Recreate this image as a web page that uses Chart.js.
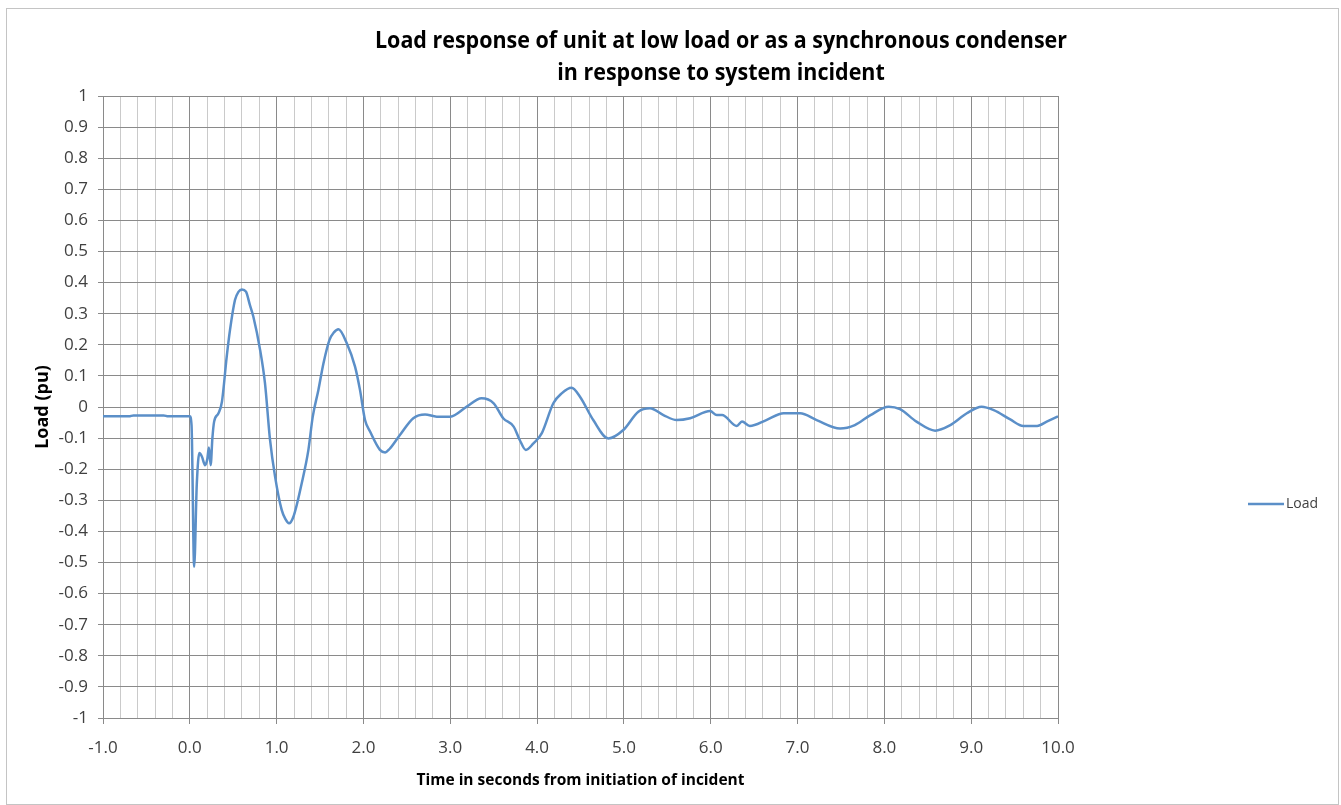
<!DOCTYPE html>
<html>
<head>
<meta charset="utf-8">
<script src="https://cdn.jsdelivr.net/npm/chart.js@4/dist/chart.umd.min.js"></script>
<style>
  body { margin: 0; background: #fff; }
  #wrap { position: relative; width: 1341px; height: 805px; }
  #frame { position: absolute; left: 6px; top: 8px; width: 1331px; height: 795px; border: 1px solid #c4c4c4; }
  #myChart { position: absolute; left: 0; top: 0; }
</style>
</head>
<body>
<div id="wrap">
  <div id="frame"></div>
  <canvas id="myChart" width="1341" height="805"></canvas>
</div>
<script>
// values
const titleLines = ['Load response of unit at low load or as a synchronous condenser', 'in response to system incident'];
const seriesName = 'Load';
const xTitle = 'Time in seconds from initiation of incident';
const yTitle = 'Load (pu)';

const times = [-1.0, -0.7, -0.65, -0.3, -0.25, 0.0, 0.02, 0.05, 0.08, 0.11, 0.14, 0.175, 0.2, 0.22, 0.24, 0.26, 0.28,
  0.33, 0.37, 0.425, 0.463, 0.52, 0.56, 0.6, 0.647, 0.69, 0.732, 0.81, 0.866, 0.924, 0.982, 1.058, 1.1, 1.143, 1.193,
  1.289, 1.366, 1.416, 1.481, 1.539, 1.608, 1.66, 1.712, 1.808, 1.903, 1.96, 2.018, 2.076, 2.19, 2.25, 2.3, 2.42,
  2.574, 2.71, 2.844, 3.0, 3.19, 3.36, 3.5, 3.61, 3.73, 3.8, 3.87, 3.958, 4.053, 4.187, 4.283, 4.398, 4.494, 4.647,
  4.82, 4.993, 5.166, 5.3, 5.455, 5.609, 5.763, 5.993, 6.07, 6.13, 6.3, 6.36, 6.45, 6.64, 6.84, 7.03, 7.22, 7.49,
  7.66, 7.84, 8.05, 8.18, 8.37, 8.585, 8.76, 8.95, 9.12, 9.26, 9.45, 9.6, 9.76, 9.87, 10.0];
const loads = [-0.03, -0.03, -0.027, -0.027, -0.03, -0.03, -0.06, -0.514, -0.25, -0.148, -0.16, -0.187, -0.17, -0.13, -0.187, -0.1, -0.047,
  -0.02, 0.017, 0.162, 0.248, 0.344, 0.37, 0.378, 0.371, 0.33, 0.29, 0.183, 0.076, -0.106, -0.224, -0.331, -0.36, -0.374, -0.353,
  -0.245, -0.138, -0.031, 0.055, 0.14, 0.215, 0.24, 0.25, 0.205, 0.13, 0.055, -0.042, -0.079, -0.138, -0.146, -0.135, -0.09,
  -0.036, -0.024, -0.031, -0.031, 0.001, 0.028, 0.012, -0.036, -0.063, -0.106, -0.138, -0.117, -0.085, 0.012, 0.044, 0.062, 0.033, -0.042,
  -0.101, -0.074, -0.015, -0.004, -0.026, -0.042, -0.036, -0.013, -0.026, -0.026, -0.061, -0.047, -0.061, -0.042, -0.02, -0.02, -0.042, -0.069,
  -0.058, -0.026, 0.001, -0.007, -0.047, -0.076, -0.058, -0.02, 0.001, -0.01, -0.04, -0.061, -0.061, -0.047, -0.03];

const lineColor = '#5b8fc8';
const textColor = '#404040';

let points = times.map((t, i) => ({x: t, y: loads[i]}));

// excel style title and legend, drawn on the canvas
const extras = {
    id: 'extras',
    afterDraw(chart) {
        let c = chart.ctx;
        c.save();
        c.fillStyle = '#000';
        c.textAlign = 'center';
        c.textBaseline = 'middle';
        c.font = 'bold 24px "Open Sans"';
        let w = c.measureText(titleLines[0]).width;
        c.save();
        c.translate(721, 0);
        c.scale(692 / w, 1);
        c.fillText(titleLines[0], 0, 41);
        c.fillText(titleLines[1], 0, 73);
        c.restore();

        c.strokeStyle = lineColor;
        c.lineWidth = 2.5;
        c.beginPath();
        c.moveTo(1248, 504);
        c.lineTo(1284, 504);
        c.stroke();
        c.fillStyle = textColor;
        c.textAlign = 'left';
        c.font = '14px "Open Sans"';
        c.fillText(seriesName, 1286, 504);
        c.restore();
    }
};

let isWhole = v => Math.abs(v - Math.round(v)) < 1e-6;

new Chart(document.getElementById('myChart'), {
    type: 'line',
    data: {
        datasets: [{
            label: seriesName,
            data: points,
            borderColor: lineColor,
            borderWidth: 2.5,
            pointRadius: 0,
            cubicInterpolationMode: 'monotone',
            fill: false
        }]
    },
    options: {
        responsive: false,
        animation: false,
        layout: {padding: {left: 0, top: 96, right: 283, bottom: 0}},
        plugins: {
            legend: {display: false},
            title: {display: false},
            tooltip: {enabled: false}
        },
        scales: {
            x: {
                type: 'linear',
                min: -1,
                max: 10,
                afterFit: s => { s.height = 87; },
                ticks: {
                    stepSize: 0.2,
                    autoSkip: false,
                    maxRotation: 0,
                    padding: 14,
                    color: textColor,
                    font: {family: '"Open Sans"', size: 17},
                    callback: v => isWhole(v) ? v.toFixed(1) : ''
                },
                grid: {
                    color: ctx => isWhole(ctx.tick.value) ? '#8a8a8a' : '#cacaca',
                    tickColor: ctx => isWhole(ctx.tick.value) ? '#8a8a8a' : 'rgba(0,0,0,0)',
                    tickLength: 6,
                    lineWidth: 1
                },
                border: {color: '#8a8a8a'},
                title: {
                    display: true,
                    text: xTitle,
                    color: '#000',
                    font: {family: '"Open Sans"', size: 15.5, weight: 'bold'},
                    padding: {top: 0, bottom: 15}
                }
            },
            y: {
                min: -1,
                max: 1,
                afterFit: s => { s.width = 103; },
                ticks: {
                    stepSize: 0.1,
                    padding: 10,
                    color: textColor,
                    font: {family: '"Open Sans"', size: 17},
                    callback: v => String(Number(v.toFixed(1)))
                },
                grid: {
                    color: '#8a8a8a',
                    tickColor: '#8a8a8a',
                    tickLength: 5,
                    lineWidth: 1
                },
                border: {color: '#8a8a8a'},
                title: {
                    display: true,
                    text: yTitle,
                    color: '#000',
                    font: {family: '"Open Sans"', size: 18, weight: 'bold'},
                    padding: {top: 32, bottom: 0}
                }
            }
        }
    },
    plugins: [extras]
});
</script>
</body>
</html>
